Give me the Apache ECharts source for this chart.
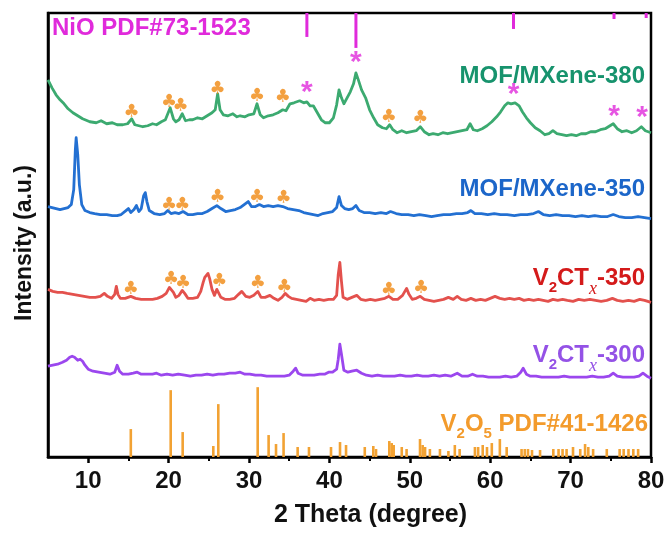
<!DOCTYPE html>
<html>
<head>
<meta charset="utf-8">
<script src="https://cdn.jsdelivr.net/npm/echarts@6/dist/echarts.min.js"></script>
<style>
  html, body { margin: 0; padding: 0; background: #fff; }
  #main { width: 671px; height: 533px; }
</style>
</head>
<body>
<div id="main"></div>
<script>
// XRD 曲线数据 [2theta, 强度(a.u.，已叠加偏移)]
var mof380 = [
  [5.0,378],[5.5,370],[6.0,363],[6.5,358],[7.0,354],[7.5,349],[8.1,345],[8.7,342],[9.3,339],[10.2,336],
  [11.0,335],[11.6,337],[12.3,334],[13.0,335],[13.6,333],[14.3,333],[14.9,334],[15.4,339],[15.8,333],[16.3,332],
  [16.8,331],[17.4,332],[18.0,334],[18.5,333],[19.1,336],[19.6,338],[20.2,350],[20.6,339],[20.9,336],[21.3,338],
  [21.7,344],[22.1,337],[22.6,338],[23.0,338],[23.6,340],[24.2,339],[24.8,342],[25.4,345],[25.8,348],[26.1,364],
  [26.4,348],[26.8,343],[27.4,342],[28.0,344],[28.5,341],[28.9,342],[29.5,341],[30.0,343],[30.6,344],[31.0,354],
  [31.4,343],[31.8,340],[32.4,342],[33.0,343],[33.6,345],[34.2,348],[34.6,347],[35.1,354],[35.6,355],[36.3,357],
  [36.8,355],[37.2,356],[37.6,352],[38.0,352],[38.5,345],[39.0,338],[39.5,335],[40.0,335],[40.5,340],[40.9,353],
  [41.2,368],[41.5,360],[41.8,354],[42.2,360],[42.6,366],[43.0,374],[43.3,385],[43.6,378],[44.0,368],[44.5,360],
  [45.0,348],[45.5,340],[46.0,333],[46.6,330],[47.1,329],[47.5,333],[47.9,328],[48.4,325],[49.0,327],[49.6,325],
  [50.2,326],[50.8,327],[51.3,331],[51.8,326],[52.4,323],[52.9,324],[53.5,323],[54.1,325],[54.7,324],[55.3,325],
  [55.9,326],[56.5,327],[57.1,328],[57.5,334],[57.9,328],[58.4,327],[59.0,329],[59.6,332],[60.2,336],[60.8,341],
  [61.3,346],[61.8,352],[62.2,355],[62.6,354],[63.1,355],[63.6,352],[64.0,346],[64.5,340],[65.0,335],[65.6,330],
  [66.2,327],[66.8,323],[67.3,324],[67.8,327],[68.3,324],[68.9,323],[69.5,322],[70.1,323],[70.7,322],[71.3,324],
  [71.9,324],[72.5,326],[73.1,326],[73.7,328],[74.3,329],[74.9,332],[75.3,334],[75.8,329],[76.4,326],[77.0,327],
  [77.6,325],[78.2,327],[78.8,331],[79.3,327],[80.0,325]
];
var mof350 = [
  [5.0,251],[5.5,250],[6.0,249],[6.5,248],[7.0,249],[7.5,250],[7.9,253],[8.2,268],[8.4,308],[8.5,320],
  [8.7,303],[8.9,273],[9.2,253],[9.6,247],[10.2,245],[10.8,244],[11.5,243],[12.3,243],[13.0,242],[13.6,242],
  [14.1,243],[14.7,247],[15.0,249],[15.3,245],[15.7,248],[16.0,252],[16.3,246],[16.6,249],[16.9,262],[17.1,265],
  [17.3,256],[17.6,247],[18.2,244],[18.9,243],[19.5,244],[19.9,247],[20.3,244],[20.8,245],[21.3,244],[21.8,246],
  [22.4,243],[23.0,243],[23.6,244],[24.2,244],[24.8,246],[25.4,249],[26.0,252],[26.5,249],[27.1,246],[27.7,247],
  [28.3,248],[28.9,250],[29.4,253],[29.9,256],[30.3,251],[30.8,251],[31.3,253],[31.8,251],[32.4,252],[33.0,251],
  [33.6,252],[34.2,251],[34.8,249],[35.5,248],[36.2,247],[36.8,245],[37.4,244],[38.0,243],[38.6,242],[39.2,244],
  [39.8,245],[40.4,246],[40.9,250],[41.2,261],[41.5,252],[41.9,249],[42.4,248],[42.9,249],[43.3,252],[43.7,247],
  [44.3,245],[45.0,245],[45.7,244],[46.4,245],[47.1,244],[47.6,246],[48.3,244],[49.0,243],[49.8,243],[50.5,242],
  [51.2,243],[52.0,242],[52.7,241],[53.4,242],[54.2,243],[55.0,243],[55.8,244],[56.5,244],[57.2,245],[57.6,247],
  [58.1,244],[58.9,244],[59.7,243],[60.5,244],[61.3,243],[62.1,243],[63.0,242],[63.8,243],[64.6,243],[65.4,244],
  [66.0,246],[66.6,243],[67.4,242],[68.2,243],[69.0,242],[69.8,242],[70.6,241],[71.4,242],[72.2,241],[73.0,242],
  [73.8,241],[74.6,241],[75.3,243],[76.0,241],[76.8,240],[77.6,240],[78.4,241],[79.2,240],[80.0,239]
];
var v2ct350 = [
  [5.0,168],[5.6,166],[6.2,165],[6.8,165],[7.4,164],[8.1,163],[8.8,162],[9.5,161],[10.2,160],[10.9,160],
  [11.5,161],[12.0,164],[12.4,161],[12.9,159],[13.3,163],[13.5,171],[13.7,163],[14.0,159],[14.6,159],[15.3,161],
  [15.9,159],[16.6,158],[17.3,158],[18.0,158],[18.6,159],[19.2,161],[19.7,164],[20.1,170],[20.3,172],[20.6,165],
  [20.9,160],[21.3,162],[21.7,167],[22.0,164],[22.4,159],[23.0,159],[23.6,160],[24.0,166],[24.3,175],[24.5,180],
  [24.7,178],[24.9,184],[25.1,179],[25.4,168],[25.7,162],[26.0,168],[26.2,169],[26.5,160],[27.0,158],[27.6,158],
  [28.2,159],[28.7,163],[29.1,166],[29.6,161],[30.1,160],[30.6,162],[31.1,166],[31.5,160],[32.0,160],[32.6,162],
  [33.1,159],[33.6,157],[34.1,160],[34.5,164],[34.9,161],[35.3,159],[35.9,158],[36.5,157],[37.1,156],[37.6,159],
  [38.1,157],[38.7,158],[39.3,157],[39.9,158],[40.5,158],[40.9,162],[41.1,183],[41.3,195],[41.5,176],[41.7,160],
  [42.2,158],[42.8,160],[43.4,162],[43.9,158],[44.5,157],[45.1,158],[45.7,157],[46.3,158],[46.9,159],[47.4,161],
  [47.9,158],[48.5,158],[49.1,162],[49.6,169],[49.9,163],[50.3,158],[50.8,159],[51.3,161],[51.8,158],[52.4,157],
  [53.0,156],[53.6,157],[54.2,158],[54.8,160],[55.4,158],[55.9,161],[56.4,158],[57.0,157],[57.6,159],[58.2,157],
  [58.8,158],[59.4,157],[60.0,159],[60.6,161],[61.2,159],[61.8,158],[62.4,159],[63.0,158],[63.6,159],[64.2,157],
  [64.8,158],[65.4,157],[66.0,158],[66.6,157],[67.2,156],[67.8,158],[68.4,157],[69.0,158],[69.6,157],[70.3,156],
  [71.0,158],[71.7,157],[72.4,158],[73.1,157],[73.8,156],[74.5,157],[75.2,159],[75.8,157],[76.5,156],[77.2,157],
  [77.9,156],[78.6,158],[79.2,157],[80.0,155]
];
var v2ct300 = [
  [5.0,91],[5.6,92],[6.2,93],[6.8,95],[7.3,97],[7.7,100],[8.0,101],[8.3,100],[8.7,97],[9.0,98],
  [9.3,96],[9.6,92],[10.0,88],[10.6,86],[11.3,85],[12.0,84],[12.7,83],[13.3,85],[13.6,92],[13.7,94],
  [13.9,86],[14.3,83],[15.0,83],[15.6,84],[16.1,85],[16.6,83],[17.3,83],[18.0,83],[18.5,84],[19.1,82],
  [19.8,83],[20.5,82],[21.2,83],[22.0,82],[22.7,81],[23.4,82],[24.1,82],[24.8,83],[25.5,82],[26.2,83],
  [26.9,83],[27.6,84],[28.3,84],[28.9,85],[29.5,83],[30.1,83],[30.8,82],[31.5,82],[32.2,81],[33.0,81],
  [33.7,81],[34.4,81],[35.0,82],[35.5,86],[35.8,89],[36.1,84],[36.7,82],[37.4,82],[38.1,82],[38.8,83],
  [39.4,83],[39.9,85],[40.4,85],[40.9,88],[41.1,98],[41.3,113],[41.5,103],[41.8,87],[42.3,85],[42.8,86],
  [43.4,87],[44.0,84],[44.6,82],[45.3,81],[46.0,82],[46.7,81],[47.4,81],[48.1,81],[48.8,82],[49.5,81],
  [50.2,81],[50.9,82],[51.6,81],[52.3,81],[53.0,82],[53.7,81],[54.4,82],[55.1,81],[55.9,84],[56.5,81],
  [57.2,81],[57.8,83],[58.4,81],[59.1,81],[59.8,80],[60.5,80],[61.2,80],[61.9,81],[62.6,80],[63.3,81],
  [63.8,85],[64.1,89],[64.5,83],[65.0,81],[65.7,81],[66.4,80],[67.1,80],[67.8,80],[68.5,80],[69.2,81],
  [69.9,80],[70.6,80],[71.3,80],[72.0,80],[72.7,81],[73.4,80],[74.1,80],[74.8,81],[75.3,84],[75.8,81],
  [76.5,80],[77.2,80],[77.9,80],[78.5,81],[79.0,84],[79.5,81],[80.0,79]
];

// 标准卡片 V2O5 PDF#41-1426（底部竖线）
var v2o5Pos = [15.3,20.26,21.75,25.56,26.18,31.08,32.44,33.36,34.3,36.05,37.46,40.2,41.32,42.07,
  44.4,45.46,45.8,47.45,47.75,48.0,49.0,49.6,51.27,51.6,51.9,52.5,53.75,54.8,55.6,56.2,58.1,58.5,59.07,59.6,
  60.2,61.2,62.05,63.9,64.3,64.7,65.2,66.2,67.85,68.5,69.0,69.5,70.3,71.2,71.8,72.2,72.8,74.5,76.1,76.6,77.2,77.8,78.4];
var v2o5Int = [28,67,25,11,53,70,22,13,24,10,10,10,15,12,
  10,11,8,16,14,12,10,8,18,12,10,8,8,6,12,8,10,10,12,10,
  14,18,10,8,8,8,7,7,8,8,8,8,10,8,13,10,8,8,8,8,8,8,8];

// 标准卡片 NiO PDF#73-1523（顶部竖线）
var nioPos = [37.2, 43.3, 62.9, 75.4, 79.4];
var nioLen = [24, 35, 16, 6, 5];

// 峰位标记
var clubMarks = [
  [15.4,345],[20.05,355],[21.5,351],[26.1,369],[31.0,361],[34.2,360],[47.4,340],[51.3,339],
  [20.05,252],[21.7,252],[26.1,260],[31.0,260],[34.3,259],
  [15.3,168],[20.3,178],[21.8,174],[26.3,176],[31.1,174],[34.4,170],[47.4,167],[51.4,169]
];
var starMarks = [[37.2,365],[43.3,395],[62.9,363],[75.4,341],[78.9,340]];

var majorTicks = [10, 20, 30, 40, 50, 60, 70, 80];
var minorTicks = [15, 25, 35, 45, 55, 65, 75];

var Y_TOP = 445;
var FONT = '"Liberation Sans", Arial, sans-serif';
var MAGENTA = '#E02ADB';
var ORANGE = '#F2A233';

var v2o5Data = [];
for (var i = 0; i < v2o5Pos.length; i++) {
    v2o5Data.push([v2o5Pos[i], 0, v2o5Int[i]]);
}
var nioData = [];
for (var i = 0; i < nioPos.length; i++) {
    nioData.push([nioPos[i], Y_TOP, Y_TOP - nioLen[i]]);
}

function stickRender(color, width) {
    return function (params, api) {
        var p0 = api.coord([api.value(0), api.value(1)]);
        var p1 = api.coord([api.value(0), api.value(2)]);
        return {
            type: 'line',
            shape: { x1: p0[0], y1: p0[1], x2: p1[0], y2: p1[1] },
            style: { stroke: color, lineWidth: width }
        };
    };
}

function curve(name, data, color) {
    return {
        name: name,
        type: 'line',
        data: data,
        showSymbol: false,
        symbol: 'none',
        lineStyle: { color: color, width: 2.8, join: 'round' },
        z: 3
    };
}

function marks(data, text, color, size, family, dy) {
    return {
        type: 'scatter',
        data: data,
        symbolSize: 2,
        itemStyle: { color: 'rgba(0,0,0,0)' },
        label: {
            show: true,
            position: 'inside',
            formatter: text,
            color: color,
            fontSize: size,
            fontWeight: 'bold',
            fontFamily: family,
            offset: [0, dy]
        },
        labelLayout: { hideOverlap: false },
        z: 5
    };
}

// 带下标的标注文字
var richStyle = function (color) {
    return {
        m: { fontSize: 24, fontWeight: 'bold', fontFamily: FONT, color: color, lineHeight: 26, verticalAlign: 'top' },
        s: { fontSize: 15, fontWeight: 'bold', fontFamily: FONT, color: color, lineHeight: 15, padding: [14, 0, 0, 0], verticalAlign: 'top' },
        x: { fontSize: 18, fontStyle: 'italic', fontFamily: '"Liberation Serif", serif', color: color, lineHeight: 16, padding: [14, 0, 0, 0], verticalAlign: 'top' }
    };
};

function tag(text, x, y, color) {
    return {
        type: 'text',
        x: x,
        y: y,
        style: {
            text: text,
            align: 'right',
            verticalAlign: 'middle',
            rich: richStyle(color),
            font: 'bold 24px ' + FONT,
            fill: color
        },
        z: 10
    };
}

var chart = echarts.init(document.getElementById('main'));
var option = {
    animation: false,
    backgroundColor: '#fff',
    grid: {
        left: 48, right: 20, top: 13, bottom: 75,
        show: true, borderColor: '#000', borderWidth: 2.5
    },
    xAxis: [{
        type: 'value',
        min: 5,
        max: 80,
        name: '2 Theta (degree)',
        nameLocation: 'middle',
        nameGap: 46,
        nameTextStyle: { fontSize: 25, fontWeight: 'bold', fontFamily: FONT, color: '#111', padding: [0, 0, 0, 42] },
        axisLine: { onZero: false, lineStyle: { color: '#000', width: 2.5 } },
        axisTick: { show: true, length: 6, customValues: majorTicks, lineStyle: { color: '#000', width: 2.5 } },
        axisLabel: { customValues: majorTicks, fontSize: 24, fontWeight: 'bold', fontFamily: FONT, color: '#111', margin: 12 },
        splitLine: { show: false }
    }, {
        type: 'value',
        min: 5,
        max: 80,
        position: 'bottom',
        axisLine: { show: false },
        axisTick: { show: true, length: 4, customValues: minorTicks, lineStyle: { color: '#000', width: 2 } },
        axisLabel: { show: false },
        splitLine: { show: false }
    }],
    yAxis: {
        type: 'value',
        min: 0,
        max: Y_TOP,
        name: 'Intensity (a.u.)',
        nameLocation: 'middle',
        nameGap: 12,
        nameTextStyle: { fontSize: 23, fontWeight: 'bold', fontFamily: FONT, color: '#111', padding: [0, 16, 0, 0] },
        axisLine: { show: true, onZero: false, lineStyle: { color: '#000', width: 2.5 } },
        axisTick: { show: false },
        axisLabel: { show: false },
        splitLine: { show: false }
    },
    series: [
        curve('MOF/MXene-380', mof380, '#3CAA70'),
        curve('MOF/MXene-350', mof350, '#2370D2'),
        curve('V2CTx-350', v2ct350, '#E3514D'),
        curve('V2CTx-300', v2ct300, '#9B47EE'),
        {
            type: 'custom',
            name: 'V2O5',
            data: v2o5Data,
            renderItem: stickRender(ORANGE, 2.6),
            z: 2
        },
        {
            type: 'custom',
            name: 'NiO',
            data: nioData,
            renderItem: stickRender(MAGENTA, 3),
            z: 2
        },
        marks(clubMarks, '♣', '#F08810', 18, '"DejaVu Sans", sans-serif', 0),
        marks(starMarks, '*', MAGENTA, 30, FONT, 7)
    ],
    graphic: [
        {
            type: 'text',
            x: 52,
            y: 28,
            style: {
                text: 'NiO PDF#73-1523',
                font: 'bold 24px ' + FONT,
                fill: MAGENTA,
                verticalAlign: 'middle'
            }
        },
        tag('{m|MOF/MXene-380}', 645, 77, '#17936D'),
        tag('{m|MOF/MXene-350}', 645, 190, '#1C66C9'),
        tag('{m|V}{s|2}{m|CT}{x|x}{m|-350}', 645, 279, '#D41A1A'),
        tag('{m|V}{s|2}{m|CT}{x|x}{m|-300}', 645, 356, '#9452E6'),
        tag('{m|V}{s|2}{m|O}{s|5}{m| PDF#41-1426}', 648, 425, '#F39B2C')
    ]
};
chart.setOption(option);
</script>
</body>
</html>
